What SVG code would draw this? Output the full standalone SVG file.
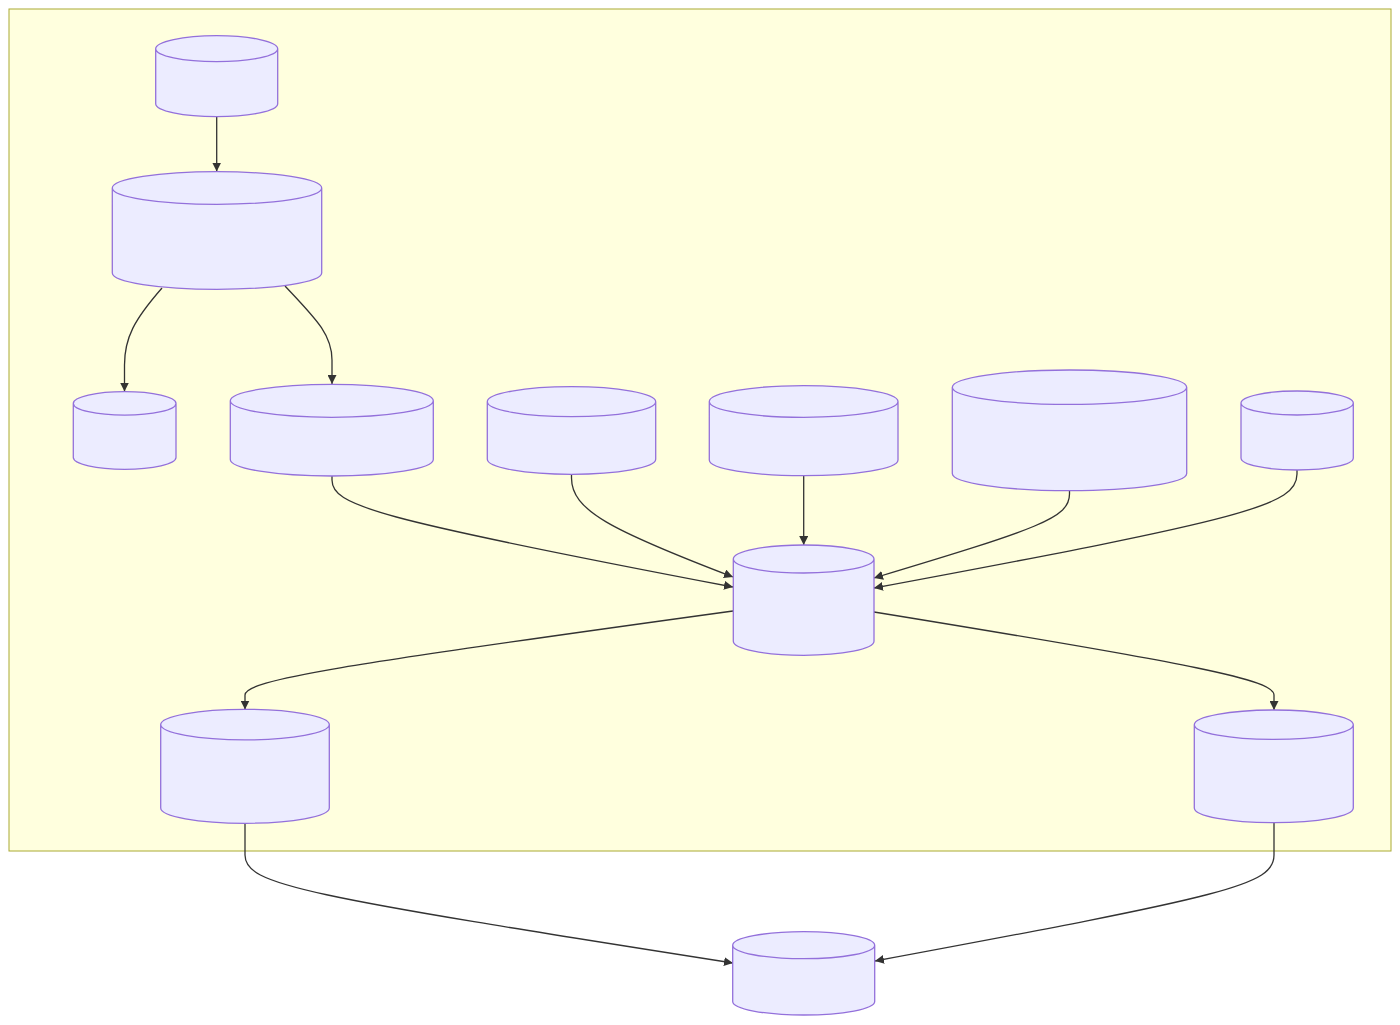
<svg xmlns="http://www.w3.org/2000/svg" width="1400" height="1025" viewBox="0 0 1400 1025">
<style>
.node path{fill:#ECECFF;stroke:#9370DB;stroke-width:1.3}
.edge{fill:none;stroke:#333333;stroke-width:1.3}
.cluster{fill:#ffffde;stroke:#aaaa33;stroke-width:1}
</style>
<defs>
<marker id="arrow" viewBox="0 0 10 10" refX="10" refY="5" markerUnits="userSpaceOnUse" markerWidth="9" markerHeight="9" orient="auto">
<path d="M0,0 L10,5 L0,10 z" fill="#333333"/>
</marker>
</defs>
<rect class="cluster" x="9" y="9" width="1382" height="842"/>
<g id="connectors">
<path class="edge" marker-end="url(#arrow)" d="M216.7,117 L216.7,171.5"/>
<path class="edge" marker-end="url(#arrow)" d="M162,288 C134,320 124.5,338 124.5,365 L124.5,391.5"/>
<path class="edge" marker-end="url(#arrow)" d="M285,286 C315,318 332,334 332,360 L332,384"/>
<path class="edge" marker-end="url(#arrow)" d="M332,476 L332,480 C332,505 370,518 733,587"/>
<path class="edge" marker-end="url(#arrow)" d="M571.5,474 L571.5,478 C571.5,510 610,530 733,577"/>
<path class="edge" marker-end="url(#arrow)" d="M803.7,476 L803.7,545"/>
<path class="edge" marker-end="url(#arrow)" d="M1069.5,491 L1069.5,494 C1069.5,518 1040,528 874,578"/>
<path class="edge" marker-end="url(#arrow)" d="M1297,470 L1297,474 C1297,505 1250,518 874,588"/>
<path class="edge" marker-end="url(#arrow)" d="M733,611 C340,665 245,680 245,695 L245,709.5"/>
<path class="edge" marker-end="url(#arrow)" d="M874,612 C1200,665 1274,680 1274,695 L1274,710"/>
<path class="edge" marker-end="url(#arrow)" d="M245,823 L245,855 C245,885 300,895 733,963"/>
<path class="edge" marker-end="url(#arrow)" d="M1274,823 L1274,855 C1274,885 1230,895 875,961"/>
</g>
<g id="n1" class="node"><path d="M155.7,48.7 a61,13 0 0 0 122,0 a61,13 0 0 0 -122,0 l0,55 a61,13 0 0 0 122,0 l0,-55"/></g>
<g id="n2" class="node"><path d="M112.3,188 a104.7,16.3 0 0 0 209.4,0 a104.7,16.3 0 0 0 -209.4,0 l0,85 a104.7,16.3 0 0 0 209.4,0 l0,-85"/></g>
<g id="n3" class="node"><path d="M73.3,403.4 a51.35,11.7 0 0 0 102.7,0 a51.35,11.7 0 0 0 -102.7,0 l0,54.2 a51.35,11.7 0 0 0 102.7,0 l0,-54.2"/></g>
<g id="n4" class="node"><path d="M230.3,400.8 a101.5,16.5 0 0 0 203,0 a101.5,16.5 0 0 0 -203,0 l0,58.7 a101.5,16.5 0 0 0 203,0 l0,-58.7"/></g>
<g id="n5" class="node"><path d="M487.3,401.7 a84.2,15 0 0 0 168.4,0 a84.2,15 0 0 0 -168.4,0 l0,57.6 a84.2,15 0 0 0 168.4,0 l0,-57.6"/></g>
<g id="n6" class="node"><path d="M709.3,401.5 a94.35,15.8 0 0 0 188.7,0 a94.35,15.8 0 0 0 -188.7,0 l0,58.4 a94.35,15.8 0 0 0 188.7,0 l0,-58.4"/></g>
<g id="n7" class="node"><path d="M952.3,387.2 a117.2,17.2 0 0 0 234.4,0 a117.2,17.2 0 0 0 -234.4,0 l0,86.3 a117.2,17.2 0 0 0 234.4,0 l0,-86.3"/></g>
<g id="n8" class="node"><path d="M1241,403 a56.15,12 0 0 0 112.3,0 a56.15,12 0 0 0 -112.3,0 l0,55 a56.15,12 0 0 0 112.3,0 l0,-55"/></g>
<g id="n9" class="node"><path d="M733.3,559 a70.35,14 0 0 0 140.7,0 a70.35,14 0 0 0 -140.7,0 l0,82.3 a70.35,14 0 0 0 140.7,0 l0,-82.3"/></g>
<g id="n10" class="node"><path d="M160.7,724.6 a84.3,15.3 0 0 0 168.6,0 a84.3,15.3 0 0 0 -168.6,0 l0,83.4 a84.3,15.3 0 0 0 168.6,0 l0,-83.4"/></g>
<g id="n11" class="node"><path d="M1194.3,724.7 a79.5,14.7 0 0 0 159,0 a79.5,14.7 0 0 0 -159,0 l0,83.3 a79.5,14.7 0 0 0 159,0 l0,-83.3"/></g>
<g id="n12" class="node"><path d="M732.7,945.2 a71,13.5 0 0 0 142,0 a71,13.5 0 0 0 -142,0 l0,56.3 a71,13.5 0 0 0 142,0 l0,-56.3"/></g>
</svg>
